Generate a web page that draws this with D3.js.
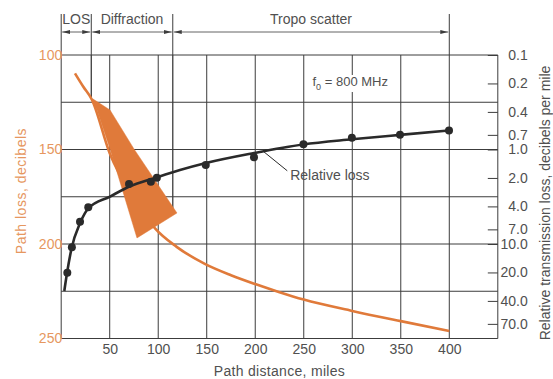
<!DOCTYPE html>
<html>
<head>
<meta charset="utf-8">
<script src="https://cdn.jsdelivr.net/npm/d3@7"></script>
<style>
  body { margin: 0; background: #fff; }
  svg { display: block; font-family: "Liberation Sans", Arial, sans-serif; }
</style>
</head>
<body>
<div id="chart"></div>
<script>
// Data
const regionNames = ["LOS", "Diffraction", "Tropo scatter"];
const regionEdges = [0, 31, 115, 400];
// where the two inner boundary lines stop (miles, dB)
const boundaryMiles = [31, 115];
const boundaryDb = [123.3, 182];

const lossMiles = [14.2, 22.8, 31.4, 50, 75, 96.7, 119, 148, 175, 200, 225, 250, 300, 350, 400];
const lossDb = [109.7, 116.8, 123.4, 152, 176, 191.7, 201.5, 210.5, 216.5, 221.2, 225.5, 229.4, 235.4, 240.8, 246];

const wedgeMiles = [30.7, 32.8, 50.3, 75, 119.3, 78.1, 50.3, 36.9];
const wedgeDb = [123.3, 123.3, 129.1, 149.7, 183.6, 196.8, 149.7, 129.1];

const relLineMiles = [3.2, 6, 10.6, 19.5, 28, 50.3, 70.9, 96.7, 122.4, 149.2, 198.7, 249.2, 299.7, 349.2, 399.7];
const relLineValues = [31.4, 20.3, 11.2, 6.0, 4.2, 3.15, 2.45, 2.0, 1.65, 1.39, 1.09, 0.885, 0.78, 0.70, 0.63];

const relDotMiles = [6.3, 11, 19.4, 27.9, 69.9, 92.4, 98.6, 149, 198.7, 249.7, 299.6, 349.2, 399.7];
const relDotValues = [20.1, 10.8, 5.8, 4.09, 2.32, 2.19, 1.99, 1.46, 1.21, 0.88, 0.75, 0.70, 0.63];

const distanceTicks = [50, 100, 150, 200, 250, 300, 350, 400];
const distanceGrid = [0, 50, 100, 150, 200, 250, 300, 350, 400, 450];
const lossTicks = [100, 150, 200, 250];
const lossGrid = [100, 125, 150, 175, 200, 225, 250];
const relTicks = [0.1, 0.2, 0.4, 0.7, 1, 2, 4, 7, 10, 20, 40, 70];
const relLabels = ["0.1", "0.2", "0.4", "0.7", "1.0", "2.0", "4.0", "7.0", "10.0", "20.0", "40.0", "70.0"];

// Layout
const W = 553, H = 379;
const margin = { top: 55, right: 55.2, bottom: 40.5, left: 61.2 };
const ORANGE = "#e07a3a";
const ORANGE_TEXT = "#e6975f";
const INK = "#2a2a2a";
const TEXT = "#505050";
const GRID = "#3c3c3c";

const svg = d3.select("#chart").append("svg")
  .attr("width", W)
  .attr("height", H);

const x = d3.scaleLinear().domain([0, 450]).range([margin.left, W - margin.right]);
const yLoss = d3.scaleLinear().domain([100, 250]).range([margin.top, H - margin.bottom]);
const yRel = d3.scaleLog().domain([0.1, 100]).range([margin.top, H - margin.bottom]);

// Grid
svg.append("g")
  .selectAll("line")
  .data(distanceGrid)
  .enter()
  .append("line")
  .attr("x1", d => x(d)).attr("x2", d => x(d))
  .attr("y1", yLoss(100)).attr("y2", yLoss(250))
  .attr("stroke", GRID)
  .attr("stroke-width", 1);

svg.append("g")
  .selectAll("line")
  .data(lossGrid)
  .enter()
  .append("line")
  .attr("x1", x(0)).attr("x2", x(450))
  .attr("y1", d => yLoss(d)).attr("y2", d => yLoss(d))
  .attr("stroke", GRID)
  .attr("stroke-width", 1);

// Region markers above the plot
const TOP_BAR = 14, ARROW_Y = 32, LABEL_Y = 24;
const defs = svg.append("defs");
defs.append("marker")
  .attr("id", "arrow")
  .attr("viewBox", "0 0 8 6")
  .attr("refX", 8).attr("refY", 3)
  .attr("markerWidth", 8).attr("markerHeight", 6)
  .attr("markerUnits", "userSpaceOnUse")
  .attr("orient", "auto-start-reverse")
  .append("path")
  .attr("d", "M0,1 L8,3 L0,5 Z")
  .attr("fill", GRID);

svg.append("g")
  .selectAll("line")
  .data(regionEdges)
  .enter()
  .append("line")
  .attr("x1", d => x(d)).attr("x2", d => x(d))
  .attr("y1", TOP_BAR).attr("y2", yLoss(100))
  .attr("stroke", GRID)
  .attr("stroke-width", 1);

svg.append("g")
  .selectAll("line")
  .data(boundaryMiles)
  .enter()
  .append("line")
  .attr("x1", d => x(d)).attr("x2", d => x(d))
  .attr("y1", yLoss(100)).attr("y2", (d, i) => yLoss(boundaryDb[i]))
  .attr("stroke", GRID)
  .attr("stroke-width", 1.3);

const regions = regionNames.map((name, i) => ({ name, from: regionEdges[i], to: regionEdges[i + 1] }));

svg.append("g")
  .selectAll("line")
  .data(regions)
  .enter()
  .append("line")
  .attr("x1", d => x(d.from) + 1).attr("x2", d => x(d.to) - 1)
  .attr("y1", ARROW_Y).attr("y2", ARROW_Y)
  .attr("stroke", GRID)
  .attr("stroke-width", 0.8)
  .attr("marker-start", "url(#arrow)")
  .attr("marker-end", "url(#arrow)");

svg.append("g")
  .selectAll("text")
  .data(regions)
  .enter()
  .append("text")
  .attr("x", d => (x(d.from) + x(d.to)) / 2)
  .attr("y", LABEL_Y)
  .attr("text-anchor", "middle")
  .attr("font-size", "14px")
  .attr("fill", TEXT)
  .text(d => d.name);

// Frequency note, with a white patch that breaks the grid behind it
const fNote = svg.append("g");
const fPatch = fNote.append("rect").attr("fill", "#fff");
const fLabel = fNote.append("text")
  .attr("x", x(259))
  .attr("y", 86)
  .attr("font-size", "13px")
  .attr("fill", TEXT);
fLabel.append("tspan").text("f");
fLabel.append("tspan").attr("font-size", "9px").attr("dy", "4").text("0");
fLabel.append("tspan").attr("dy", "-4").text(" = 800 MHz");
const fb = fLabel.node().getBBox();
fPatch.attr("x", fb.x - 2).attr("y", fb.y + 1).attr("width", fb.width + 4).attr("height", fb.height - 1);

// Path loss curve and diffraction wedge
const lossData = lossMiles.map((m, i) => ({ m, v: lossDb[i] }));
svg.append("path")
  .datum(lossData)
  .attr("d", d3.line().x(d => x(d.m)).y(d => yLoss(d.v)).curve(d3.curveMonotoneX))
  .attr("fill", "none")
  .attr("stroke", ORANGE)
  .attr("stroke-width", 2.6);

const wedge = wedgeMiles.map((m, i) => [x(m), yLoss(wedgeDb[i])]);
svg.append("path")
  .datum(wedge)
  .attr("d", d3.line().curve(d3.curveLinearClosed))
  .attr("fill", ORANGE)
  .attr("stroke", ORANGE)
  .attr("stroke-width", 0.5);

// Relative loss line and points
const relLine = relLineMiles.map((m, i) => ({ m, v: relLineValues[i] }));
svg.append("path")
  .datum(relLine)
  .attr("d", d3.line().x(d => x(d.m)).y(d => yRel(d.v)).curve(d3.curveMonotoneX))
  .attr("fill", "none")
  .attr("stroke", INK)
  .attr("stroke-width", 2.6);

const relDots = relDotMiles.map((m, i) => ({ m, v: relDotValues[i] }));
svg.append("g")
  .selectAll("circle")
  .data(relDots)
  .enter()
  .append("circle")
  .attr("cx", d => x(d.m))
  .attr("cy", d => yRel(d.v))
  .attr("r", 4)
  .attr("fill", INK);

// Axes
const xAxis = svg.append("g")
  .attr("transform", "translate(0," + yLoss(250) + ")")
  .call(d3.axisBottom(x).tickValues(distanceTicks).tickSize(0).tickPadding(6));
xAxis.select(".domain").remove();
xAxis.selectAll("text").attr("font-size", "14px").attr("fill", TEXT).attr("font-family", null);

const leftAxis = svg.append("g")
  .attr("transform", "translate(" + (x(0) + 1) + ",0)")
  .call(d3.axisLeft(yLoss).tickValues(lossTicks).tickSize(0).tickPadding(0));
leftAxis.select(".domain").remove();
leftAxis.selectAll("text").attr("font-size", "14px").attr("fill", ORANGE_TEXT).attr("font-family", null);

const rightAxis = svg.append("g")
  .attr("transform", "translate(" + x(450) + ",0)")
  .call(d3.axisRight(yRel).tickValues(relTicks).tickSize(-10).tickFormat((d, i) => relLabels[i]));
rightAxis.select(".domain").remove();
rightAxis.selectAll("line").attr("stroke", GRID);
rightAxis.selectAll("text")
  .attr("x", 30)
  .attr("text-anchor", "end")
  .attr("font-size", "14px")
  .attr("fill", TEXT)
  .attr("font-family", null);

// Titles
svg.append("text")
  .attr("x", (x(0) + x(450)) / 2)
  .attr("y", 376)
  .attr("text-anchor", "middle")
  .attr("font-size", "14px")
  .attr("letter-spacing", "0.3px")
  .attr("fill", TEXT)
  .text("Path distance, miles");

svg.append("text")
  .attr("transform", "translate(21.5," + yLoss(172) + ") rotate(-90)")
  .attr("dy", "0.35em")
  .attr("text-anchor", "middle")
  .attr("font-size", "14px")
  .attr("letter-spacing", "0.5px")
  .attr("fill", ORANGE_TEXT)
  .text("Path loss, decibels");

svg.append("text")
  .attr("transform", "translate(545,203) rotate(-90)")
  .attr("dy", "0.35em")
  .attr("text-anchor", "middle")
  .attr("font-size", "14px")
  .attr("fill", TEXT)
  .text("Relative transmission loss, decibels per mile");

// Relative loss callout
svg.append("line")
  .attr("x1", x(209)).attr("y1", yRel(1.06))
  .attr("x2", x(233)).attr("y2", yRel(1.68))
  .attr("stroke", INK)
  .attr("stroke-width", 1);

svg.append("text")
  .attr("x", x(236))
  .attr("y", yRel(1.68) + 9)
  .attr("font-size", "14px")
  .attr("fill", TEXT)
  .text("Relative loss");
</script>
</body>
</html>
